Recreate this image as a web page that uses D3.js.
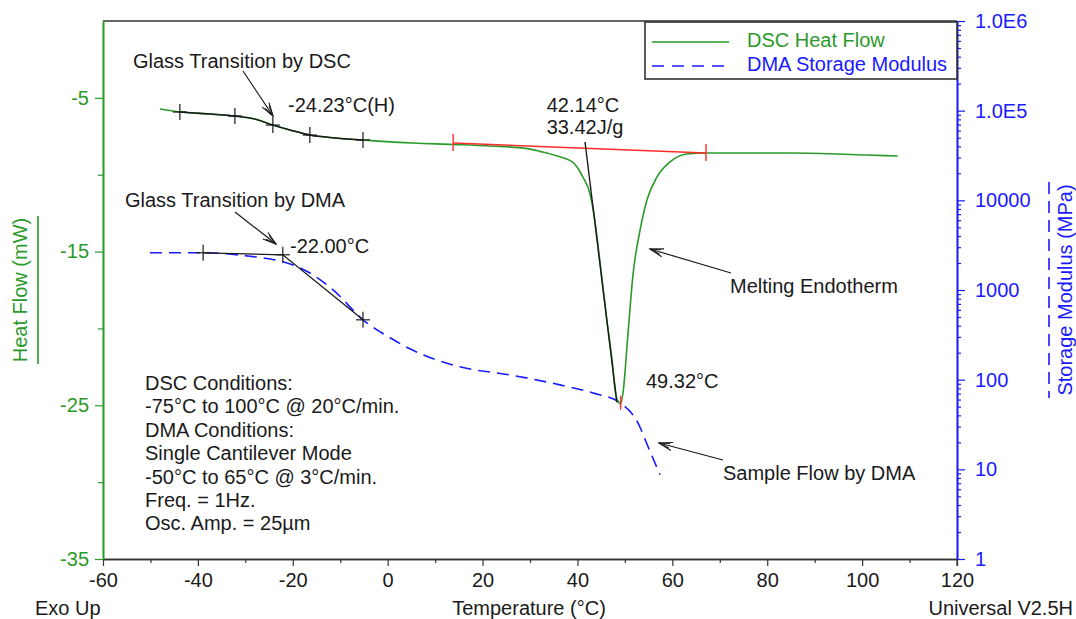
<!DOCTYPE html>
<html>
<head>
<meta charset="utf-8">
<script src="https://cdn.jsdelivr.net/npm/d3@7"></script>
<style>
  html, body { margin: 0; padding: 0; background: #fff; }
  svg { display: block; }
  text { font-family: "Liberation Sans", Arial, sans-serif; }
</style>
</head>
<body>
<svg id="chart" width="1076" height="619"></svg>
<script>
// ---------------- data ----------------
const dscTemp = [-48.0,-43.8,-37.4,-32.2,-28.0,-24.2,-20.6,-16.4,-11.1,-5.2,5.3,13.8,21.6,29.4,32.1,36.1,39.05,41.15,42.6,43.5,44.95,46.2,47.3,48.1,48.75,49.1,49.6,50.6,51.7,53.2,54.65,56.75,59.5,63.1,67.1,85.4,101.0,107.5];
const dscHeatFlow = [-5.73,-5.92,-6.05,-6.18,-6.38,-6.77,-7.09,-7.42,-7.61,-7.74,-7.94,-8.03,-8.13,-8.30,-8.48,-8.82,-9.2,-10.15,-11.19,-12.62,-16.2,-19.45,-22.06,-24.33,-24.85,-24.9,-24.2,-20.56,-16.53,-13.6,-11.65,-10.15,-9.17,-8.65,-8.59,-8.59,-8.72,-8.78];

const dmaTemp = [-50.1,-38.5,-29.0,-25.0,-22.1,-18.5,-11.5,-5.2,0.5,4.7,15.2,25.8,36.3,43.3,49.0,52.75,54.9,57.4];
const dmaModulus = [2600,2600,2378,2228,2065,1770,1005,465,293,221,139,113,87.5,71,55,33,17.8,8.7];

const xMajorTicks = [-60,-40,-20,0,20,40,60,80,100,120];
const xMinorTicks = [-50,-30,-10,10,30,50,70,90,110];
const leftMajorTicks = [-5,-15,-25,-35];
const leftMinorTicks = [-10,-20,-30];
const rightTicks = [1,10,100,1000,10000,100000,1000000];
const rightTickLabels = ["1","10","100","1000","10000","1.0E5","1.0E6"];

// DSC glass transition analysis
const dscTgRange = [-43.8, -5.2];
const dscTgMarkTemp = [-43.8,-32.2,-24.2,-16.4,-5.2];
const dscTgMarkHF = [-5.92,-6.18,-6.77,-7.42,-7.74];
// DMA glass transition analysis
const dmaTgTemp = [-38.9,-22.1,-5.2];
const dmaTgModulus = [2600,2470,465];
// melting analysis
const meltBaselineTemp = [13.8, 67.1];
const meltBaselineHF = [-7.94, -8.59];
const meltOnsetTemp = [41.6, 48.3];
const meltOnsetHF = [-7.87, -24.79];
const meltPeak = {t: 49.1, hf: -24.9};

const conditions = ["DSC Conditions:","-75°C to 100°C @ 20°C/min.","DMA Conditions:","Single Cantilever Mode","-50°C to 65°C @ 3°C/min.","Freq. = 1Hz.","Osc. Amp. = 25µm"];

// ---------------- setup ----------------
const GREEN = "#2a9a2a", BLUE = "#1a1aff", RED = "#ff2a2a", INK = "#1a1a1a", FRAME = "#333";
const FS = 20;
const svg = d3.select("#chart");
svg.append("rect").attr("width",1076).attr("height",619).attr("fill","#fff");

const x = d3.scaleLinear().domain([-60,120]).range([103,957]);
const yL = d3.scaleLinear().domain([-35,0]).range([559,21]);
const yR = d3.scaleLog().domain([1,1e6]).range([559,21]);

const dsc = dscTemp.map((t,i)=>({t, v: dscHeatFlow[i]}));
const dma = dmaTemp.map((t,i)=>({t, v: dmaModulus[i]}));

function styleAxis(g, color, textColor) {
  g.attr("font-family", '"Liberation Sans", Arial, sans-serif').attr("font-size", FS);
  g.selectAll("path.domain").attr("stroke", color).attr("stroke-width", 1.6);
  g.selectAll(".tick line").attr("stroke", color).attr("stroke-width", 1.2);
  g.selectAll(".tick text").attr("fill", textColor);
}

// top frame line
svg.append("line").attr("x1",x(-60)).attr("x2",x(120)).attr("y1",yL(0)).attr("y2",yL(0))
  .attr("stroke",FRAME).attr("stroke-width",1.6);

// bottom axis
const gxMin = svg.append("g").attr("transform",`translate(0,${yL(-35)})`)
  .call(d3.axisBottom(x).tickValues(xMinorTicks).tickSize(4).tickSizeOuter(0).tickFormat(""));
styleAxis(gxMin, FRAME, INK);
const gx = svg.append("g").attr("transform",`translate(0,${yL(-35)})`)
  .call(d3.axisBottom(x).tickValues(xMajorTicks).tickSize(7).tickPadding(7).tickSizeOuter(0).tickFormat(d=>String(d)));
styleAxis(gx, FRAME, INK);

// left axis
const gyMin = svg.append("g").attr("transform",`translate(${x(-60)},0)`)
  .call(d3.axisLeft(yL).tickValues(leftMinorTicks).tickSize(5).tickSizeOuter(0).tickFormat(""));
styleAxis(gyMin, GREEN, GREEN);
const gy = svg.append("g").attr("transform",`translate(${x(-60)},0)`)
  .call(d3.axisLeft(yL).tickValues(leftMajorTicks).tickSize(8).tickPadding(6).tickSizeOuter(0).tickFormat(d=>String(d)));
styleAxis(gy, GREEN, GREEN);

// right axis (log)
const minorLog = [];
for (let e = 0; e < 6; e++) for (let m = 2; m <= 9; m++) minorLog.push(m * Math.pow(10, e));
const gr = svg.append("g").attr("transform",`translate(${x(120)},0)`)
  .call(d3.axisRight(yR).tickValues(minorLog).tickSize(4).tickSizeOuter(0).tickFormat(""));
styleAxis(gr, BLUE, BLUE);
const gr2 = svg.append("g").attr("transform",`translate(${x(120)},0)`)
  .call(d3.axisRight(yR).tickValues(rightTicks).tickSize(8).tickPadding(10).tickSizeOuter(0).tickFormat((d,i)=>rightTickLabels[i]));
styleAxis(gr2, BLUE, BLUE);
svg.append("line").attr("x1",x(120)).attr("x2",x(120)).attr("y1",yL(-35)).attr("y2",yL(-35)+7).attr("stroke",FRAME).attr("stroke-width",1.2);

// axis titles
svg.append("text").attr("x",35).attr("y",615).attr("font-size",FS).attr("fill",INK).text("Exo Up");
svg.append("text").attr("x",529).attr("y",615).attr("font-size",FS).attr("fill",INK).attr("text-anchor","middle").text("Temperature (°C)");
svg.append("text").attr("x",1073).attr("y",615).attr("font-size",FS).attr("fill",INK).attr("text-anchor","end").text("Universal V2.5H");

svg.append("text").attr("transform","translate(27,290) rotate(-90)").attr("font-size",FS).attr("fill",GREEN)
  .attr("text-anchor","middle").text("Heat Flow (mW)");
svg.append("line").attr("x1",38).attr("x2",38).attr("y1",216).attr("y2",364).attr("stroke",GREEN).attr("stroke-width",1.6);

svg.append("text").attr("transform","translate(1072,290) rotate(-90)").attr("font-size",FS).attr("fill",BLUE)
  .attr("text-anchor","middle").text("Storage Modulus (MPa)");
svg.append("line").attr("x1",1049).attr("x2",1049).attr("y1",182).attr("y2",398).attr("stroke",BLUE).attr("stroke-width",1.6)
  .attr("stroke-dasharray","12,7");

// ---------------- curves ----------------
const lineL = d3.line().x(d=>x(d.t)).y(d=>yL(d.v)).curve(d3.curveMonotoneX);
const lineR = d3.line().x(d=>x(d.t)).y(d=>yR(d.v)).curve(d3.curveMonotoneX);
const segR = d3.line().x(d=>x(d.t)).y(d=>yR(d.v));

svg.append("path").datum(dma).attr("d",lineR).attr("fill","none").attr("stroke",BLUE)
  .attr("stroke-width",1.6).attr("stroke-dasharray","12,7");
svg.append("path").datum(dsc).attr("d",lineL).attr("fill","none").attr("stroke",GREEN).attr("stroke-width",1.6);

// DSC Tg overlay
svg.append("path").datum(dsc.filter(d=>d.t>=dscTgRange[0] && d.t<=dscTgRange[1])).attr("d",lineL)
  .attr("fill","none").attr("stroke",INK).attr("stroke-width",1.4);
function cross(cx, cy, color) {
  svg.append("line").attr("x1",cx-7).attr("x2",cx+7).attr("y1",cy).attr("y2",cy).attr("stroke",color).attr("stroke-width",1.2);
  svg.append("line").attr("x1",cx).attr("x2",cx).attr("y1",cy-8).attr("y2",cy+8).attr("stroke",color).attr("stroke-width",1.2);
}
dscTgMarkTemp.forEach((t,i)=>cross(x(t), yL(dscTgMarkHF[i]), INK));

// DMA Tg tangents
const dmaTg = dmaTgTemp.map((t,i)=>({t, v: dmaTgModulus[i]}));
svg.append("path").datum(dmaTg).attr("d",segR).attr("fill","none").attr("stroke",INK).attr("stroke-width",1.3);
dmaTg.forEach(d=>cross(x(d.t), yR(d.v), INK));

// melting baseline (red) and onset tangent (black)
svg.append("line").attr("x1",x(meltBaselineTemp[0])).attr("y1",yL(meltBaselineHF[0]))
  .attr("x2",x(meltBaselineTemp[1])).attr("y2",yL(meltBaselineHF[1])).attr("stroke",RED).attr("stroke-width",1.4);
meltBaselineTemp.forEach((t,i)=>{
  svg.append("line").attr("x1",x(t)).attr("x2",x(t)).attr("y1",yL(meltBaselineHF[i])-9).attr("y2",yL(meltBaselineHF[i])+8)
    .attr("stroke",RED).attr("stroke-width",1.4);
});
svg.append("line").attr("x1",x(meltOnsetTemp[0])).attr("y1",yL(meltOnsetHF[0]))
  .attr("x2",x(meltOnsetTemp[1])).attr("y2",yL(meltOnsetHF[1])).attr("stroke",INK).attr("stroke-width",1.4);
svg.append("line").attr("x1",x(meltPeak.t)).attr("x2",x(meltPeak.t)).attr("y1",yL(meltPeak.hf)-8).attr("y2",yL(meltPeak.hf)+6)
  .attr("stroke",RED).attr("stroke-width",1.4);

// ---------------- annotations ----------------
function label(tx, ty, s, anchor) {
  svg.append("text").attr("x",tx).attr("y",ty).attr("font-size",FS).attr("fill",INK)
    .attr("text-anchor",anchor||"start").text(s);
}
function arrow(x1,y1,x2,y2) {
  svg.append("line").attr("x1",x1).attr("y1",y1).attr("x2",x2).attr("y2",y2).attr("stroke",INK).attr("stroke-width",1.2);
  const a = Math.atan2(y2-y1, x2-x1);
  [[14,0.3],[11,0.22]].forEach(([L,w])=>{
    const p = [[x2 - L*Math.cos(a-w), y2 - L*Math.sin(a-w)],[x2,y2],[x2 - L*Math.cos(a+w), y2 - L*Math.sin(a+w)]];
    svg.append("path").attr("d", d3.line()(p)).attr("fill","none").attr("stroke",INK).attr("stroke-width",1.1);
  });
}

label(133, 68, "Glass Transition by DSC");
arrow(243, 71, 273, 116);
label(288, 112, "-24.23°C(H)");

label(583, 112, "42.14°C", "middle");
label(585, 134, "33.42J/g", "middle");

label(125, 207, "Glass Transition by DMA");
arrow(235, 212, 276, 244);
label(290, 253, "-22.00°C");

label(730, 293, "Melting Endotherm");
arrow(731, 273, 650, 249);

label(646, 388, "49.32°C");

label(723, 480, "Sample Flow by DMA");
arrow(723, 460, 659, 443);

conditions.forEach((s,i)=>label(145, 390 + i*23.4, s));

// ---------------- legend ----------------
const lg = svg.append("g");
lg.append("rect").attr("x",645).attr("y",22).attr("width",x(120)-645).attr("height",57)
  .attr("fill","#fff").attr("stroke",FRAME).attr("stroke-width",1.6);
lg.append("line").attr("x1",652).attr("x2",729).attr("y1",42).attr("y2",42).attr("stroke",GREEN).attr("stroke-width",1.6);
lg.append("line").attr("x1",652).attr("x2",729).attr("y1",66).attr("y2",66).attr("stroke",BLUE).attr("stroke-width",1.6)
  .attr("stroke-dasharray","12,8");
lg.append("text").attr("x",747).attr("y",47).attr("font-size",FS).attr("fill",GREEN).text("DSC Heat Flow");
lg.append("text").attr("x",747).attr("y",71).attr("font-size",FS).attr("fill",BLUE).text("DMA Storage Modulus");
</script>
</body>
</html>
